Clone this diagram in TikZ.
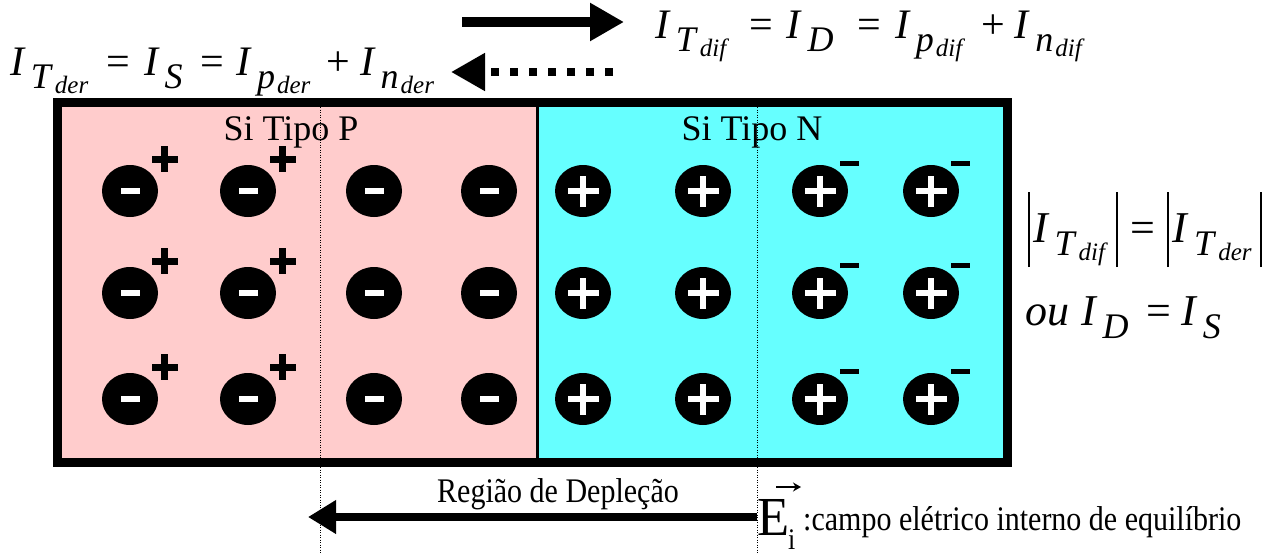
\documentclass[tikz,border=0pt]{standalone}
\usepackage{fontspec}
\usepackage{graphicx}
\setmainfont{Liberation Serif}
\usetikzlibrary{shapes.geometric,arrows.meta}
\definecolor{pcol}{RGB}{255,204,204}
\definecolor{ncol}{RGB}{102,255,255}
\newcommand{\Ia}[3]{\textit{#1}\kern5pt\raisebox{-13pt}{\fontsize{36}{36}\selectfont\textit{#2}\kern2pt\raisebox{-5pt}{\fontsize{25}{25}\selectfont\textit{#3}}}}
\newcommand{\Ib}[2]{\textit{#1}\kern5pt\raisebox{-13pt}{\fontsize{36}{36}\selectfont\textit{#2}}}
\newcommand{\vbar}{\rule[-25pt]{2pt}{75pt}}
\newcommand{\wminus}{\textcolor{white}{\rule[-3pt]{19pt}{6pt}}}
\newcommand{\wplus}{\textcolor{white}{\rlap{\rule[-3pt]{31pt}{6pt}}\hspace{12.5pt}\rule[-15.5pt]{6pt}{31pt}\hspace{12.5pt}}}
\newcommand{\bplus}{\rlap{\rule[-3.5pt]{26pt}{7pt}}\hspace{9.5pt}\rule[-13pt]{7pt}{26pt}\hspace{9.5pt}}
\begin{document}
\begin{tikzpicture}[x=1pt,y=-1pt,
  ion/.style={ellipse,fill=black,minimum width=56pt,minimum height=52pt,inner sep=0pt},
  supplus/.style={inner sep=0pt},
  supminus/.style={fill=black,minimum width=19pt,minimum height=5pt,inner sep=0pt},
  eq/.style={inner sep=0pt,anchor=base west},
  lbl/.style={inner sep=0pt,anchor=base},
  dotline/.style={line width=0.8pt,dash pattern=on 1pt off 1.5pt},
  bigarrow/.style={line width=10pt,-{Triangle[length=34pt,width=36pt]}},
  dotarrow/.style={line width=8pt,dash pattern=on 8pt off 11pt,-{Triangle[length=34pt,width=36pt]}},
  fieldarrow/.style={line width=8pt,-{Triangle[length=28pt,width=32pt]}}]
\useasboundingbox (0,0) rectangle (1268,554);
% regions
\coordinate (tl) at (57.5,102.5);
\coordinate (br) at (1007.5,462);
\coordinate (jt) at (537.5,102.5);
\coordinate (jb) at (537.5,462);
\fill[pcol] (tl) rectangle (jb);
\fill[ncol] (jt) rectangle (br);
\draw[line width=3pt] (jt) -- (jb);
\draw[line width=9pt] (tl) rectangle (br);
% depletion boundaries
\coordinate (d1t) at (320,107);
\coordinate (d1b) at (320,554);
\coordinate (d2t) at (757,107);
\coordinate (d2b) at (757,554);
\draw[dotline] (d1t) -- (d1b);
\draw[dotline] (d2t) -- (d2b);
% labels
\node[lbl] (sip) at (291,140) {\fontsize{36}{36}\selectfont Si Tipo P};
\node[lbl] (sin) at (752,140) {\fontsize{36}{36}\selectfont Si Tipo N};
% ions
\foreach \r/\y in {1/191,2/293,3/399}{
  \foreach \c/\x in {1/130,2/248,3/374,4/489}{
    \node[ion] (p\r\c) at (\x,\y) {\wminus};
  }
  \foreach \c/\x in {1/583,2/703,3/820,4/931}{
    \node[ion] (n\r\c) at (\x,\y) {\wplus};
  }
  \foreach \c in {1,2}{
    \node[supplus] (hp\r\c) at ([shift={(30,-32)}]p\r\c.center) {\bplus};
  }
  \foreach \c in {3,4}{
    \node[supminus] (en\r\c) at ([shift={(29,-28)}]n\r\c.center) {};
  }
}
% top currents
\coordinate (a1s) at (462,22);
\coordinate (a1e) at (624,22);
\draw[bigarrow] (a1s) -- (a1e);
\coordinate (a2s) at (613,72);
\coordinate (a2e) at (451,72);
\draw[dotarrow] (a2s) -- (a2e);
\node[eq] (eqdif) at (655,38) {\fontsize{42}{42}\selectfont \Ia{I}{T}{dif}\hspace{20pt}=\hspace{14pt}\Ib{I}{D}\hspace{24pt}=\hspace{14pt}\Ia{I}{p}{dif}\hspace{16pt}+\hspace{10pt}\Ia{I}{n}{dif}};
\node[eq] (eqder) at (10,75) {\fontsize{42}{42}\selectfont \Ia{I}{T}{der}\hspace{18pt}=\hspace{14pt}\Ib{I}{S}\hspace{18pt}=\hspace{12pt}\Ia{I}{p}{der}\hspace{16pt}+\hspace{10pt}\Ia{I}{n}{der}};
% right equalities
\node[eq] (eqabs) at (1028,242) {\fontsize{44}{44}\selectfont \vbar\hspace{3pt}\Ia{I}{T}{dif}\hspace{8pt}\vbar\hspace{12pt}=\hspace{12pt}\vbar\hspace{4pt}\Ia{I}{T}{der}\hspace{8pt}\vbar};
\node[eq] (eqou) at (1025,325) {\fontsize{44}{44}\selectfont \textit{ou}\hspace{12pt}\Ib{I}{D}\hspace{18pt}=\hspace{10pt}\Ib{I}{S}};
% bottom field
\node[lbl] (dep) at (558,502) {\scalebox{1}[1.15]{\fontsize{30}{30}\selectfont Região de Depleção}};
\coordinate (fs) at (757,517);
\coordinate (fe) at (308,517);
\draw[fieldarrow] (fs) -- (fe);
\node[eq] (E) at (757,535) {\scalebox{1.05}[1.1]{\fontsize{50}{50}\selectfont E}};
\node[eq] (Ei) at (788,549) {\scalebox{1}[1.15]{\fontsize{26}{26}\selectfont i}};
\coordinate (va) at (776,487);
\coordinate (vb) at (801,487);
\draw[line width=1.5pt,-{Stealth[length=8pt,width=9pt]}] (va) -- (vb);
\node[eq] (campo) at (803,530) {\scalebox{1}[1.15]{\fontsize{30}{30}\selectfont :campo elétrico interno de equilíbrio}};
\end{tikzpicture}
\end{document}
